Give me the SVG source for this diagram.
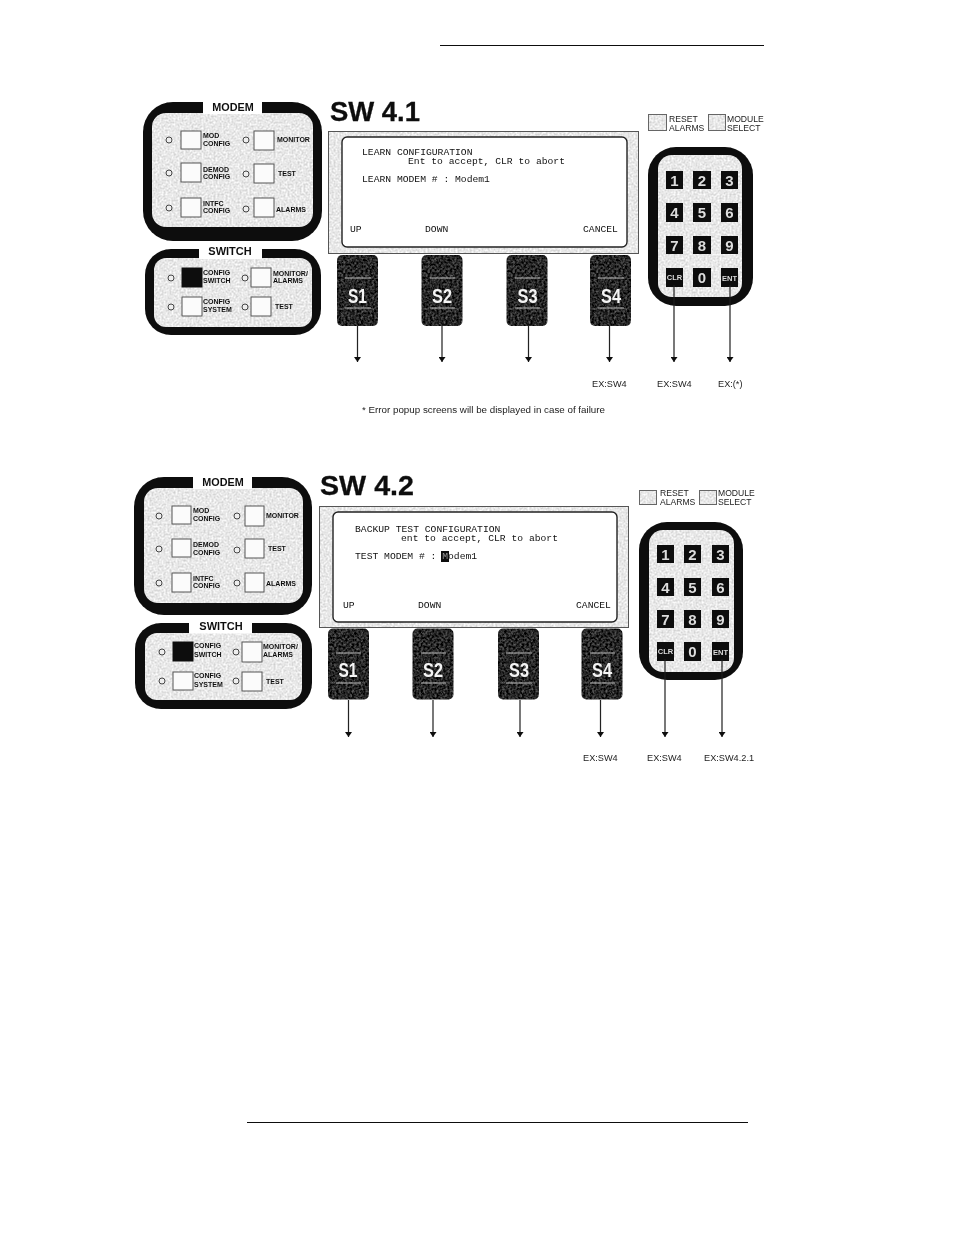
<svg xmlns="http://www.w3.org/2000/svg" width="954" height="1235" viewBox="0 0 954 1235">
<style>
text{font-family:"Liberation Sans",Arial,sans-serif;fill:#111}
.mono{font-family:"Liberation Mono","Courier New",monospace;font-size:9.7px;fill:#111}
.lbl{font-size:7px;font-weight:bold}
.ttl{font-size:28px;font-weight:bold;stroke:#111;stroke-width:.3}
.hd{font-size:10.8px;font-weight:bold;text-anchor:middle}
.ex{font-size:9.2px;fill:#222}
.side{font-size:8.6px;fill:#222}
.frame{fill:#0c0c0c}
.panel{fill:#e6e6e6;filter:url(#light)}
.btn{fill:#fbfbfb;stroke:#555;stroke-width:1}
.on{fill:#0a0a0a;stroke:#111;stroke-width:1}
.led{fill:#eee;stroke:#444;stroke-width:1}
.bezel{fill:#e6e6e6;filter:url(#light)}
.edge{fill:none;stroke:#555;stroke-width:1}
.screen{fill:#fff;stroke:#222;stroke-width:1.4}
.soft{fill:#333;filter:url(#dark)}
.softline{stroke:#bbb;stroke-width:1}
.sk{font-size:20px;font-weight:bold;fill:#f4f4f4;text-anchor:middle}
.key{fill:#0c0c0c}
.num{font-size:15px;font-weight:bold;fill:#ddd;text-anchor:middle}
.fn{font-size:7.5px;font-weight:bold;fill:#ddd;text-anchor:middle}
.icon{fill:#d4d4d4;filter:url(#light)}
.iconedge{fill:none;stroke:#666;stroke-width:1}
.conn line{stroke:#222;stroke-width:1.2;marker-end:url(#arrow)}
.rule{stroke:#111;stroke-width:1}
</style>
<defs>
<filter id="light" x="0" y="0" width="1" height="1" color-interpolation-filters="sRGB"><feTurbulence type="fractalNoise" baseFrequency="0.5" numOctaves="2" seed="4"/><feColorMatrix values="0.3 0 0 0 0.76 0.3 0 0 0 0.76 0.3 0 0 0 0.76 0 0 0 0 1"/><feComposite operator="in" in2="SourceAlpha"/></filter>
<filter id="dark" x="0" y="0" width="1" height="1" color-interpolation-filters="sRGB"><feTurbulence type="fractalNoise" baseFrequency="0.45" numOctaves="2" seed="9"/><feColorMatrix values="0.7 0 0 0 -0.2 0.7 0 0 0 -0.2 0.7 0 0 0 -0.2 0 0 0 0 1"/><feComposite operator="in" in2="SourceAlpha"/></filter>
<filter id="scan" x="0" y="0" width="954" height="1235" filterUnits="userSpaceOnUse"><feGaussianBlur stdDeviation="0.4"/></filter>
<marker id="arrow" viewBox="0 0 5 7" refX="5" refY="3.5" markerUnits="userSpaceOnUse" markerWidth="5" markerHeight="7" orient="auto"><path d="M0 0L5 3.500L0 7Z" fill="#111"/></marker>
<rect id="softbody" width="41" height="71" rx="5"/>
</defs>
<g filter="url(#scan)">
<line class="rule" x1="440" y1="45.5" x2="764" y2="45.5"/>
<line class="rule" x1="247" y1="1122.5" x2="748" y2="1122.5"/>

<g id="modem-1">
<rect class="frame" x="143" y="102" width="179" height="139" rx="30"/>
<rect class="panel" x="152" y="113" width="161" height="114" rx="14"/>
<rect x="203" y="101" width="59" height="13" fill="#fff"/>
<text class="hd" x="233" y="111">MODEM</text>
<circle class="led" cx="169" cy="140" r="3"/><rect class="btn" x="181" y="131" width="20" height="18"/><text class="lbl" x="203" y="138">MOD</text><text class="lbl" x="203" y="146">CONFIG</text>
<circle class="led" cx="169" cy="173" r="3"/><rect class="btn" x="181" y="163" width="20" height="19"/><text class="lbl" x="203" y="172">DEMOD</text><text class="lbl" x="203" y="179">CONFIG</text>
<circle class="led" cx="169" cy="208" r="3"/><rect class="btn" x="181" y="198" width="20" height="19"/><text class="lbl" x="203" y="206">INTFC</text><text class="lbl" x="203" y="213">CONFIG</text>
<circle class="led" cx="246" cy="140" r="3"/><rect class="btn" x="254" y="131" width="20" height="19"/><text class="lbl" x="277" y="142">MONITOR</text>
<circle class="led" cx="246" cy="174" r="3"/><rect class="btn" x="254" y="164" width="20" height="19"/><text class="lbl" x="278" y="176">TEST</text>
<circle class="led" cx="246" cy="209" r="3"/><rect class="btn" x="254" y="198" width="20" height="19"/><text class="lbl" x="276" y="212">ALARMS</text>
</g>

<g id="switch-1">
<rect class="frame" x="145" y="249" width="176" height="86" rx="26"/>
<rect class="panel" x="154" y="258" width="158" height="69" rx="12"/>
<rect x="199" y="248" width="63" height="11" fill="#fff"/>
<text class="hd" x="230" y="255" style="font-size:11px">SWITCH</text>
<circle class="led" cx="171" cy="278" r="3"/><rect class="on" x="182" y="268" width="20" height="19"/><text class="lbl" x="203" y="275">CONFIG</text><text class="lbl" x="203" y="283">SWITCH</text>
<circle class="led" cx="171" cy="307" r="3"/><rect class="btn" x="182" y="297" width="20" height="19"/><text class="lbl" x="203" y="304">CONFIG</text><text class="lbl" x="203" y="312">SYSTEM</text>
<circle class="led" cx="245" cy="278" r="3"/><rect class="btn" x="251" y="268" width="20" height="19"/><text class="lbl" x="273" y="276">MONITOR/</text><text class="lbl" x="273" y="283">ALARMS</text>
<circle class="led" cx="245" cy="307" r="3"/><rect class="btn" x="251" y="297" width="20" height="19"/><text class="lbl" x="275" y="309">TEST</text>
</g>

<text id="title-1" class="ttl" x="330" y="121" textLength="90" lengthAdjust="spacingAndGlyphs">SW 4.1</text>

<g id="screen-1">
<rect class="bezel" x="328" y="131" width="310" height="122"/>
<rect class="edge" x="328.5" y="131.5" width="310" height="122"/>
<rect class="screen" x="342" y="137" width="285" height="110" rx="5"/>
<text class="mono" x="362" y="155">LEARN CONFIGURATION</text>
<text class="mono" x="408" y="164">Ent to accept, CLR to abort</text>
<text class="mono" x="362" y="182">LEARN MODEM # : Modem1</text>
<text class="mono" x="350" y="232">UP</text>
<text class="mono" x="425" y="232">DOWN</text>
<text class="mono" x="583" y="232">CANCEL</text>
</g>

<g id="s1-1"><use href="#softbody" class="soft" x="337" y="255"/><path class="softline" d="M345 278H371M345 308H371"/><text class="sk" x="357.500" y="303" textLength="19" lengthAdjust="spacingAndGlyphs">S1</text></g>
<g id="s2-1"><use href="#softbody" class="soft" x="421.500" y="255"/><path class="softline" d="M430 278H455M430 308H455"/><text class="sk" x="442" y="303" textLength="20" lengthAdjust="spacingAndGlyphs">S2</text></g>
<g id="s3-1"><use href="#softbody" class="soft" x="506.500" y="255"/><path class="softline" d="M515 278H540M515 308H540"/><text class="sk" x="527.500" y="303" textLength="20" lengthAdjust="spacingAndGlyphs">S3</text></g>
<g id="s4-1"><use href="#softbody" class="soft" x="590" y="255"/><path class="softline" d="M598 278H624M598 308H624"/><text class="sk" x="611" y="303" textLength="20" lengthAdjust="spacingAndGlyphs">S4</text></g>

<g id="indicators-1">
<rect class="icon" x="648" y="114" width="19" height="17"/><rect class="iconedge" x="648.500" y="114.500" width="18" height="16"/><text class="side" x="669" y="122">RESET</text><text class="side" x="669" y="131">ALARMS</text>
<rect class="icon" x="708" y="114" width="18" height="17"/><rect class="iconedge" x="708.500" y="114.500" width="17" height="16"/><text class="side" x="727" y="122">MODULE</text><text class="side" x="727" y="131">SELECT</text>
</g>

<g id="keypad-1">
<rect class="frame" x="648" y="147" width="105" height="159" rx="28"/>
<rect class="panel" x="658" y="155" width="84" height="142" rx="14"/>
<rect class="key" x="666" y="171" width="17" height="18"/><text class="num" x="674.500" y="185.500">1</text>
<rect class="key" x="693" y="171" width="18" height="18"/><text class="num" x="702" y="185.500">2</text>
<rect class="key" x="721" y="171" width="17" height="18"/><text class="num" x="729.500" y="185.500">3</text>
<rect class="key" x="666" y="203" width="17" height="19"/><text class="num" x="674.500" y="218">4</text>
<rect class="key" x="693" y="203" width="18" height="19"/><text class="num" x="702" y="218">5</text>
<rect class="key" x="721" y="203" width="17" height="19"/><text class="num" x="729.500" y="218">6</text>
<rect class="key" x="666" y="236" width="17" height="18"/><text class="num" x="674.500" y="250.500">7</text>
<rect class="key" x="693" y="236" width="18" height="18"/><text class="num" x="702" y="250.500">8</text>
<rect class="key" x="721" y="236" width="17" height="18"/><text class="num" x="729.500" y="250.500">9</text>
<rect class="key" x="666" y="268" width="17" height="19"/><text class="fn" x="674.500" y="280">CLR</text>
<rect class="key" x="693" y="268" width="18" height="19"/><text class="num" x="702" y="283">0</text>
<rect class="key" x="721" y="268" width="17" height="19"/><text class="fn" x="729.500" y="281">ENT</text>
</g>

<g id="modem-2">
<rect class="frame" x="134" y="477" width="178" height="138" rx="30"/>
<rect class="panel" x="144" y="488" width="159" height="115" rx="14"/>
<rect x="193" y="476" width="59" height="13" fill="#fff"/>
<text class="hd" x="223" y="486">MODEM</text>
<circle class="led" cx="159" cy="516" r="3"/><rect class="btn" x="172" y="506" width="19" height="18"/><text class="lbl" x="193" y="513">MOD</text><text class="lbl" x="193" y="521">CONFIG</text>
<circle class="led" cx="159" cy="549" r="3"/><rect class="btn" x="172" y="539" width="19" height="18"/><text class="lbl" x="193" y="547">DEMOD</text><text class="lbl" x="193" y="555">CONFIG</text>
<circle class="led" cx="159" cy="583" r="3"/><rect class="btn" x="172" y="573" width="19" height="19"/><text class="lbl" x="193" y="581">INTFC</text><text class="lbl" x="193" y="588">CONFIG</text>
<circle class="led" cx="237" cy="516" r="3"/><rect class="btn" x="245" y="506" width="19" height="20"/><text class="lbl" x="266" y="518">MONITOR</text>
<circle class="led" cx="237" cy="550" r="3"/><rect class="btn" x="245" y="539" width="19" height="19"/><text class="lbl" x="268" y="551">TEST</text>
<circle class="led" cx="237" cy="583" r="3"/><rect class="btn" x="245" y="573" width="19" height="19"/><text class="lbl" x="266" y="586">ALARMS</text>
</g>

<g id="switch-2">
<rect class="frame" x="135" y="623" width="177" height="86" rx="26"/>
<rect class="panel" x="145" y="633" width="157" height="67" rx="12"/>
<rect x="189" y="622" width="63" height="11.500" fill="#fff"/>
<text class="hd" x="221" y="630" style="font-size:11px">SWITCH</text>
<circle class="led" cx="162" cy="652" r="3"/><rect class="on" x="173" y="642" width="20" height="19"/><text class="lbl" x="194" y="648">CONFIG</text><text class="lbl" x="194" y="657">SWITCH</text>
<circle class="led" cx="162" cy="681" r="3"/><rect class="btn" x="173" y="672" width="20" height="18"/><text class="lbl" x="194" y="678">CONFIG</text><text class="lbl" x="194" y="687">SYSTEM</text>
<circle class="led" cx="236" cy="652" r="3"/><rect class="btn" x="242" y="642" width="20" height="20"/><text class="lbl" x="263" y="649">MONITOR/</text><text class="lbl" x="263" y="657">ALARMS</text>
<circle class="led" cx="236" cy="681" r="3"/><rect class="btn" x="242" y="672" width="20" height="19"/><text class="lbl" x="266" y="684">TEST</text>
</g>

<text id="title-2" class="ttl" x="320" y="495" textLength="94" lengthAdjust="spacingAndGlyphs">SW 4.2</text>

<g id="screen-2">
<rect class="bezel" x="319" y="506" width="309" height="121"/>
<rect class="edge" x="319.5" y="506.5" width="309" height="121"/>
<rect class="screen" x="333" y="512" width="284" height="110" rx="5"/>
<text class="mono" x="355" y="532">BACKUP TEST CONFIGURATION</text>
<text class="mono" x="401" y="541">ent to accept, CLR to abort</text>
<rect x="441" y="551" width="8" height="11" fill="#111"/>
<text class="mono" x="355" y="559">TEST MODEM # : <tspan fill="#999">M</tspan>odem1</text>
<text class="mono" x="343" y="608">UP</text>
<text class="mono" x="418" y="608">DOWN</text>
<text class="mono" x="576" y="608">CANCEL</text>
</g>

<g id="s1-2"><use href="#softbody" class="soft" x="328" y="628.500"/><path class="softline" d="M336 653H361M336 683H361"/><text class="sk" x="348" y="677" textLength="19" lengthAdjust="spacingAndGlyphs">S1</text></g>
<g id="s2-2"><use href="#softbody" class="soft" x="412.500" y="628.500"/><path class="softline" d="M421 653H446M421 683H446"/><text class="sk" x="433" y="677" textLength="20" lengthAdjust="spacingAndGlyphs">S2</text></g>
<g id="s3-2"><use href="#softbody" class="soft" x="498" y="628.500"/><path class="softline" d="M506 653H532M506 683H532"/><text class="sk" x="519" y="677" textLength="20" lengthAdjust="spacingAndGlyphs">S3</text></g>
<g id="s4-2"><use href="#softbody" class="soft" x="581.500" y="628.500"/><path class="softline" d="M590 653H615M590 683H615"/><text class="sk" x="602" y="677" textLength="20" lengthAdjust="spacingAndGlyphs">S4</text></g>

<g id="indicators-2">
<rect class="icon" x="639" y="490" width="18" height="15"/><rect class="iconedge" x="639.500" y="490.500" width="17" height="14"/><text class="side" x="660" y="496">RESET</text><text class="side" x="660" y="505">ALARMS</text>
<rect class="icon" x="699" y="490" width="18" height="15"/><rect class="iconedge" x="699.500" y="490.500" width="17" height="14"/><text class="side" x="718" y="496">MODULE</text><text class="side" x="718" y="505">SELECT</text>
</g>

<g id="keypad-2">
<rect class="frame" x="639" y="522" width="104" height="158" rx="28"/>
<rect class="panel" x="649" y="530" width="85" height="142" rx="14"/>
<rect class="key" x="657" y="545" width="17" height="18"/><text class="num" x="665.500" y="559.500">1</text>
<rect class="key" x="684" y="545" width="17" height="18"/><text class="num" x="692.500" y="559.500">2</text>
<rect class="key" x="712" y="545" width="17" height="18"/><text class="num" x="720.500" y="559.500">3</text>
<rect class="key" x="657" y="578" width="17" height="18"/><text class="num" x="665.500" y="592.500">4</text>
<rect class="key" x="684" y="578" width="17" height="18"/><text class="num" x="692.500" y="592.500">5</text>
<rect class="key" x="712" y="578" width="17" height="18"/><text class="num" x="720.500" y="592.500">6</text>
<rect class="key" x="657" y="610" width="17" height="18"/><text class="num" x="665.500" y="624.500">7</text>
<rect class="key" x="684" y="610" width="17" height="18"/><text class="num" x="692.500" y="624.500">8</text>
<rect class="key" x="712" y="610" width="17" height="18"/><text class="num" x="720.500" y="624.500">9</text>
<rect class="key" x="657" y="642" width="17" height="19"/><text class="fn" x="665.500" y="654">CLR</text>
<rect class="key" x="684" y="642" width="17" height="19"/><text class="num" x="692.500" y="657">0</text>
<rect class="key" x="712" y="642" width="17" height="19"/><text class="fn" x="720.500" y="655">ENT</text>
</g>

<g id="connectors" class="conn">
<line x1="357.500" y1="326" x2="357.500" y2="362"/>
<line x1="442" y1="326" x2="442" y2="362"/>
<line x1="528.500" y1="326" x2="528.500" y2="362"/>
<line x1="609.500" y1="326" x2="609.500" y2="362"/>
<line x1="674" y1="285" x2="674" y2="362"/>
<line x1="730" y1="285" x2="730" y2="362"/>
<line x1="348.500" y1="700" x2="348.500" y2="737"/>
<line x1="433" y1="700" x2="433" y2="737"/>
<line x1="520" y1="700" x2="520" y2="737"/>
<line x1="600.500" y1="700" x2="600.500" y2="737"/>
<line x1="665" y1="659" x2="665" y2="737"/>
<line x1="722" y1="659" x2="722" y2="737"/>
</g>

<g id="notes">
<text class="ex" x="592" y="387">EX:SW4</text>
<text class="ex" x="657" y="387">EX:SW4</text>
<text class="ex" x="718" y="387">EX:(*)</text>
<text class="ex" x="362" y="413" textLength="243" lengthAdjust="spacingAndGlyphs">* Error popup screens will be displayed in case of failure</text>
<text class="ex" x="583" y="761">EX:SW4</text>
<text class="ex" x="647" y="761">EX:SW4</text>
<text class="ex" x="704" y="761">EX:SW4.2.1</text>
</g>
</g>
</svg>
